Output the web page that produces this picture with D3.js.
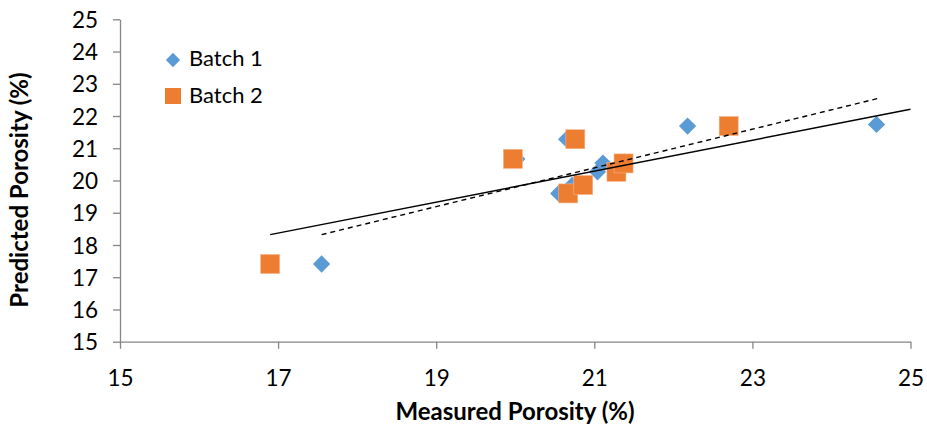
<!DOCTYPE html>
<html>
<head>
<meta charset="utf-8">
<script src="https://cdn.jsdelivr.net/npm/d3@7"></script>
<style>
  html, body { margin: 0; padding: 0; background: #fff; }
  svg { display: block; font-family: Lato, "Open Sans", sans-serif; }
</style>
</head>
<body>
<svg id="chart" width="927" height="431"></svg>
<script>
// Measured vs predicted porosity (%) for two batches
const batch1Measured  = [17.55, 20.55, 20.72, 20.02, 20.65, 21.04, 21.11, 22.18, 24.57];
const batch1Predicted = [17.41, 19.60, 19.85, 20.67, 21.28, 20.27, 20.54, 21.69, 21.74];

const batch2Measured  = [16.90, 19.97, 20.76, 20.67, 20.86, 21.28, 21.37, 22.70];
const batch2Predicted = [17.41, 20.67, 21.28, 19.60, 19.86, 20.27, 20.53, 21.69];

// Trend lines: end points [x, y]
const trendSolidX  = [16.90, 25.00];
const trendSolidY  = [18.32, 22.21];
const trendDashedX = [17.55, 24.58];
const trendDashedY = [18.32, 22.54];

const xTicks = [15, 17, 19, 21, 23, 25];
const yTicks = [15, 16, 17, 18, 19, 20, 21, 22, 23, 24, 25];

const seriesNames = ["Batch 1", "Batch 2"];
const blue = "#5B9BD5", orange = "#ED7D31", axisGrey = "#868686";

const svg = d3.select("#chart");
const plotLeft = 120, plotRight = 910.5, plotTop = 19.3, plotBottom = 341.7;

const x = d3.scaleLinear().domain([15, 25]).range([plotLeft, plotRight]);
const y = d3.scaleLinear().domain([15, 25]).range([plotBottom, plotTop]);

// Axes
const xAxis = svg.append("g")
  .attr("transform", `translate(0,${plotBottom})`)
  .call(d3.axisBottom(x).tickValues(xTicks).tickSize(7).tickSizeOuter(0).tickFormat(d3.format("d")));
const yAxis = svg.append("g")
  .attr("transform", `translate(${plotLeft},0)`)
  .call(d3.axisLeft(y).tickValues(yTicks).tickSize(7).tickSizeOuter(0).tickFormat(d3.format("d")));

[xAxis, yAxis].forEach(g => {
  g.select(".domain").attr("stroke", axisGrey).attr("stroke-width", 1.3);
  g.selectAll(".tick line").attr("stroke", axisGrey).attr("stroke-width", 1.3);
  g.selectAll(".tick text")
    .attr("fill", "#000")
    .style("font-size", "22.5px")
    .style("font-family", "Lato, 'Open Sans', sans-serif");
});
xAxis.selectAll(".tick text").attr("y", 36).attr("dy", "0.36em");
yAxis.selectAll(".tick text").attr("x", -22).attr("dy", "0.36em");

// Axis titles
svg.append("text")
  .attr("x", 515)
  .attr("y", 414)
  .attr("text-anchor", "middle")
  .attr("dominant-baseline", "middle")
  .style("font-size", "24px")
  .style("font-weight", "bold")
  .text("Measured Porosity (%)");

svg.append("text")
  .attr("transform", `translate(22,190) rotate(-90)`)
  .attr("text-anchor", "middle")
  .attr("dominant-baseline", "middle")
  .style("font-size", "24px")
  .style("font-weight", "bold")
  .text("Predicted Porosity (%)");

// Markers
const diamond = d3.symbol().type(d3.symbolDiamond2).size(190);
const b1 = batch1Measured.map((m, i) => ({ m, p: batch1Predicted[i] }));
const b2 = batch2Measured.map((m, i) => ({ m, p: batch2Predicted[i] }));

svg.append("g").selectAll("path").data(b1).join("path")
  .attr("d", diamond)
  .attr("transform", d => `translate(${x(d.m)},${y(d.p)})`)
  .attr("fill", blue);

const sq = 19;
svg.append("g").selectAll("rect").data(b2).join("rect")
  .attr("x", d => x(d.m) - sq / 2)
  .attr("y", d => y(d.p) - sq / 2)
  .attr("width", sq).attr("height", sq)
  .attr("fill", orange)
  .attr("stroke", "#F6B48A").attr("stroke-width", 0.6);

// Trend lines
const line = d3.line().x(d => x(d[0])).y(d => y(d[1]));
svg.append("path")
  .attr("d", line(trendSolidX.map((v, i) => [v, trendSolidY[i]])))
  .attr("fill", "none").attr("stroke", "#000").attr("stroke-width", 1.4);
svg.append("path")
  .attr("d", line(trendDashedX.map((v, i) => [v, trendDashedY[i]])))
  .attr("fill", "none").attr("stroke", "#000").attr("stroke-width", 1.4)
  .attr("stroke-dasharray", "5,4");

// Legend
const legend = svg.append("g");
legend.append("path")
  .attr("d", d3.symbol().type(d3.symbolDiamond2).size(130))
  .attr("transform", "translate(173,60)")
  .attr("fill", blue);
legend.append("rect")
  .attr("x", 165).attr("y", 88).attr("width", 16).attr("height", 16)
  .attr("fill", orange);
legend.selectAll("text.lbl").data(seriesNames).join("text")
  .attr("class", "lbl")
  .attr("x", 189)
  .attr("y", (d, i) => 60 + i * 37)
  .attr("dominant-baseline", "middle")
  .style("font-size", "22px")
  .text(d => d);
</script>
</body>
</html>
